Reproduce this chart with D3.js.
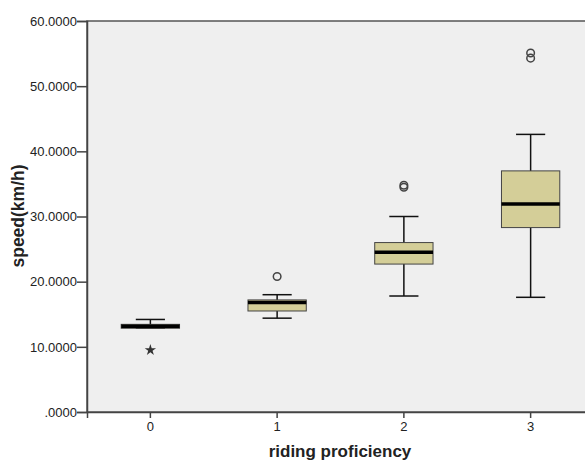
<!DOCTYPE html>
<meta charset="utf-8">
<style>
body { margin: 0; background: #fff; }
text { font-family: "Liberation Sans", Arial, sans-serif; fill: #222; }
</style>
<body>
<script src="https://cdnjs.cloudflare.com/ajax/libs/d3/7.8.5/d3.min.js"></script>
<script>

var width = 585,
    height = 460;

// data
var categories = ["0", "1", "2", "3"];
var whiskerLow  = [12.85, 14.4, 17.8, 17.6];
var q1          = [12.85, 15.5, 22.7, 28.3];
var median      = [13.15, 16.8, 24.5, 31.9];
var q3          = [13.45, 17.2, 26.0, 37.0];
var whiskerHigh = [14.2, 18.0, 30.0, 42.6];
var outlierCats = ["1", "2", "2", "3", "3"];
var outlierVals = [20.8, 34.5, 34.8, 54.3, 55.1];
var extremeCats = ["0"];
var extremeVals = [9.5];
var yTicks = [0, 10, 20, 30, 40, 50, 60];

var plotL = 87, plotT = 21, plotR = 594, plotB = 412;

var x = d3.scaleBand().domain(categories).range([plotL, plotR]);
var y = d3.scaleLinear().domain([0, 60]).range([plotB, plotT]);

var svg = d3.select("body").append("svg")
    .attr("width", width)
    .attr("height", height);

svg.append("rect")
    .attr("x", plotL).attr("y", plotT)
    .attr("width", plotR - plotL).attr("height", plotB - plotT)
    .attr("fill", "#efefef")
    .attr("stroke", "#555")
    .attr("stroke-width", 1.5);

// y axis
var yAxis = d3.axisLeft(y)
    .tickValues(yTicks)
    .tickSize(10)
    .tickPadding(0)
    .tickFormat(function(d) { return d === 0 ? ".0000" : d.toFixed(4); });
var gy = svg.append("g").attr("transform", "translate(" + plotL + ",0)").call(yAxis);
gy.select(".domain").attr("stroke", "#444").attr("stroke-width", 1.5);
gy.selectAll(".tick line").attr("stroke", "#444").attr("stroke-width", 1.5);
gy.selectAll("text").style("font-size", "13px").attr("fill", "#333");

// x axis
var xAxis = d3.axisBottom(x).tickSize(6).tickPadding(4);
var gx = svg.append("g").attr("transform", "translate(0," + plotB + ")").call(xAxis);
gx.select(".domain").attr("stroke", "#444").attr("stroke-width", 1.5);
gx.selectAll(".tick line").attr("stroke", "#444").attr("stroke-width", 1.5);
gx.selectAll("text").style("font-size", "13px").attr("fill", "#333");

var boxW = x.bandwidth() * 0.46,
    capW = boxW / 2;

var boxes = svg.append("g").selectAll("g")
    .data(categories)
    .enter().append("g");

boxes.append("line")
    .attr("x1", function(d) { return x(d) + x.bandwidth() / 2; })
    .attr("x2", function(d) { return x(d) + x.bandwidth() / 2; })
    .attr("y1", function(d, i) { return y(whiskerLow[i]); })
    .attr("y2", function(d, i) { return y(whiskerHigh[i]); })
    .attr("stroke", "#111").attr("stroke-width", 1.5);

[whiskerLow, whiskerHigh].forEach(function(arr) {
    boxes.append("line")
        .attr("x1", function(d) { return x(d) + x.bandwidth() / 2 - capW / 2; })
        .attr("x2", function(d) { return x(d) + x.bandwidth() / 2 + capW / 2; })
        .attr("y1", function(d, i) { return y(arr[i]); })
        .attr("y2", function(d, i) { return y(arr[i]); })
        .attr("stroke", "#111").attr("stroke-width", 1.5);
});

boxes.append("rect")
    .attr("x", function(d) { return x(d) + x.bandwidth() / 2 - boxW / 2; })
    .attr("width", boxW)
    .attr("y", function(d, i) { return y(q3[i]); })
    .attr("height", function(d, i) { return y(q1[i]) - y(q3[i]); })
    .attr("fill", "#d4ce98")
    .attr("stroke", "#444").attr("stroke-width", 1);

boxes.append("line")
    .attr("x1", function(d) { return x(d) + x.bandwidth() / 2 - boxW / 2; })
    .attr("x2", function(d) { return x(d) + x.bandwidth() / 2 + boxW / 2; })
    .attr("y1", function(d, i) { return y(median[i]); })
    .attr("y2", function(d, i) { return y(median[i]); })
    .attr("stroke", "#000").attr("stroke-width", 3.5);

// outliers
svg.append("g").selectAll("circle")
    .data(outlierVals)
    .enter().append("circle")
    .attr("cx", function(d, i) { return x(outlierCats[i]) + x.bandwidth() / 2; })
    .attr("cy", function(d) { return y(d); })
    .attr("r", 3.8)
    .attr("fill", "none")
    .attr("stroke", "#444").attr("stroke-width", 1.5);

// extremes
var star = d3.symbol().type(d3.symbolStar).size(40);
svg.append("g").selectAll("path")
    .data(extremeVals)
    .enter().append("path")
    .attr("d", star)
    .attr("transform", function(d, i) {
        return "translate(" + (x(extremeCats[i]) + x.bandwidth() / 2) + "," + y(d) + ")";
    })
    .attr("fill", "#333");

svg.append("text")
    .attr("x", 340).attr("y", 457)
    .attr("text-anchor", "middle")
    .style("font-size", "17px").style("font-weight", "bold")
    .text("riding proficiency");

svg.append("text")
    .attr("transform", "translate(24,216) rotate(-90)")
    .attr("text-anchor", "middle")
    .style("font-size", "17.5px").style("font-weight", "bold")
    .text("speed(km/h)");
</script>
